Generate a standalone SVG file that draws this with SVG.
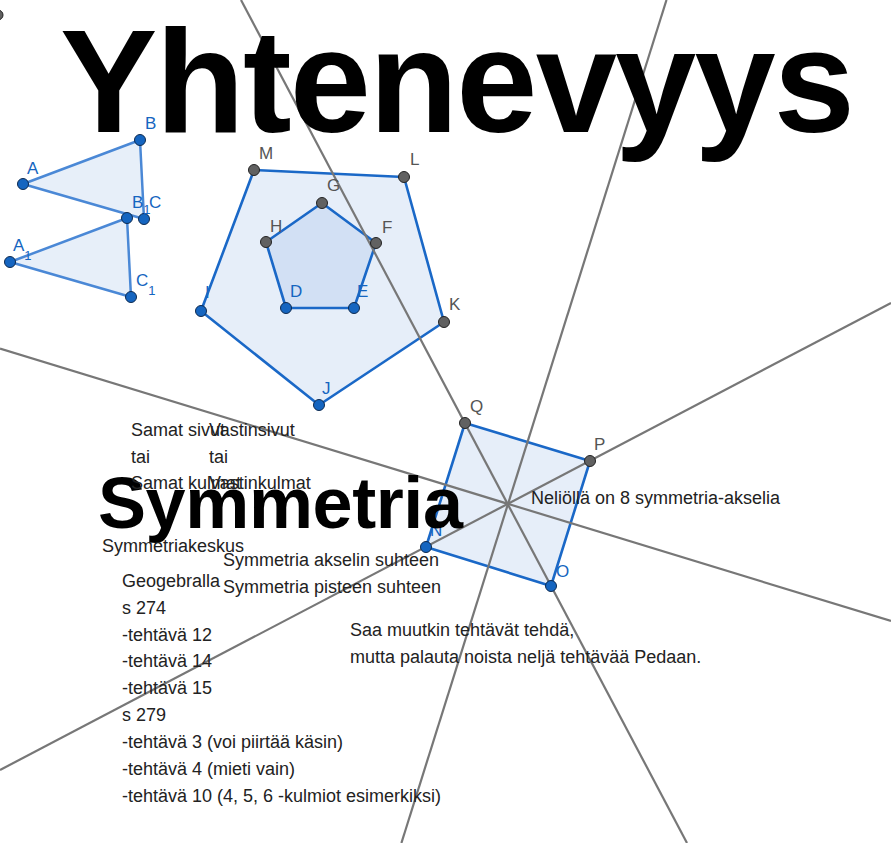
<svg xmlns="http://www.w3.org/2000/svg" width="891" height="843" viewBox="0 0 891 843">
<style>
.ax{stroke:#777;stroke-width:2.2;fill:none}
.tri{stroke:#4a88d6;stroke-width:2.5;fill:#e3ecf8;fill-opacity:0.85;stroke-linejoin:round}
.poly{stroke:#1a68c7;stroke-width:2.6;fill:#e6eef9;stroke-linejoin:round}
.inner{stroke:#1a68c7;stroke-width:2.6;fill:#d2e0f4;stroke-linejoin:round}
.pb{fill:#1565c0;stroke:#0d2a50;stroke-width:1}
.pg{fill:#616161;stroke:#222;stroke-width:1}
.lb{font-family:"Liberation Sans",Arial,sans-serif;font-size:17px;fill:#1565c0}
.lg{font-family:"Liberation Sans",Arial,sans-serif;font-size:17px;fill:#555}
.sub{font-size:13px}
.t{font-family:"Liberation Sans",Arial,sans-serif;font-size:18px;fill:#222}
.big{font-family:"Liberation Sans",Arial,sans-serif;font-weight:bold;fill:#000}
</style>
<g id="shapes">
<polygon class="tri" points="23,184 140,140 144,219"/>
<polygon class="tri" points="10,262 127,218 131,297"/>
<polygon class="poly" points="254,170 404,177 444,322 319,405 201,311"/>
<polygon class="inner" points="322,203 376,243 354,308 286,308 266,242"/>
<polygon class="poly" points="465,423 590,461 551,586 426,547"/>
</g>
<g id="connectors">
<line class="ax" x1="241" y1="0" x2="687" y2="843"/>
<line class="ax" x1="666.5" y1="0" x2="401.4" y2="843"/>
<line class="ax" x1="0" y1="348.5" x2="891" y2="621"/>
<line class="ax" x1="0" y1="770" x2="891" y2="303"/>
</g>
<g id="points">
<circle class="pg" cx="-2" cy="15" r="5"/>
<circle class="pb" cx="23" cy="184" r="5.5"/>
<circle class="pb" cx="140" cy="140" r="5.5"/>
<circle class="pb" cx="144" cy="219" r="5.5"/>
<circle class="pb" cx="10" cy="262" r="5.5"/>
<circle class="pb" cx="127" cy="218" r="5.5"/>
<circle class="pb" cx="131" cy="297" r="5.5"/>
<circle class="pg" cx="254" cy="170" r="5.5"/>
<circle class="pg" cx="404" cy="177" r="5.5"/>
<circle class="pg" cx="444" cy="322" r="5.5"/>
<circle class="pb" cx="319" cy="405" r="5.5"/>
<circle class="pb" cx="201" cy="311" r="5.5"/>
<circle class="pg" cx="322" cy="203" r="5.5"/>
<circle class="pg" cx="376" cy="243" r="5.5"/>
<circle class="pb" cx="354" cy="308" r="5.5"/>
<circle class="pb" cx="286" cy="308" r="5.5"/>
<circle class="pg" cx="266" cy="242" r="5.5"/>
<circle class="pg" cx="465" cy="423" r="5.5"/>
<circle class="pg" cx="590" cy="461" r="5.5"/>
<circle class="pb" cx="551" cy="586" r="5.5"/>
<circle class="pb" cx="426" cy="547" r="5.5"/>
</g>
<g id="labels">
<text class="lb" x="27" y="174">A</text>
<text class="lb" x="145" y="129">B</text>
<text class="lb" x="132" y="208">B<tspan class="sub" dy="6">1</tspan></text>
<text class="lb" x="149" y="208">C</text>
<text class="lb" x="13" y="251">A<tspan class="sub" dy="9">1</tspan></text>
<text class="lb" x="136" y="286">C<tspan class="sub" dy="9">1</tspan></text>
<text class="lg" x="259" y="159">M</text>
<text class="lg" x="410" y="165">L</text>
<text class="lg" x="327" y="191">G</text>
<text class="lg" x="270" y="232">H</text>
<text class="lg" x="382" y="233">F</text>
<text class="lb" x="290" y="297">D</text>
<text class="lb" x="357" y="297">E</text>
<text class="lb" x="205" y="298">I</text>
<text class="lg" x="449" y="310">K</text>
<text class="lb" x="322" y="394">J</text>
<text class="lg" x="470" y="412">Q</text>
<text class="lg" x="594" y="450">P</text>
<text class="lb" x="556" y="577">O</text>
<text class="lb" x="430" y="536">N</text>
</g>
<g id="texts">
<text class="big" x="60" y="132" font-size="146" textLength="795">Yhtenevyys</text>
<text class="big" x="98" y="528" font-size="72" textLength="365">Symmetria</text>
<text class="t" x="131" y="436">Samat sivut</text>
<text class="t" x="131" y="463">tai</text>
<text class="t" x="131" y="489">Samat kulmat</text>
<text class="t" x="209" y="436">Vastinsivut</text>
<text class="t" x="209" y="463">tai</text>
<text class="t" x="209" y="489">Vastinkulmat</text>
<text class="t" x="531" y="504">Neliöllä on 8 symmetria-akselia</text>
<text class="t" x="102" y="552">Symmetriakeskus</text>
<text class="t" x="223" y="566">Symmetria akselin suhteen</text>
<text class="t" x="223" y="593">Symmetria pisteen suhteen</text>
<text class="t" x="122" y="587">Geogebralla</text>
<text class="t" x="122" y="614">s 274</text>
<text class="t" x="122" y="641">-tehtävä 12</text>
<text class="t" x="122" y="667">-tehtävä 14</text>
<text class="t" x="122" y="694">-tehtävä 15</text>
<text class="t" x="122" y="721">s 279</text>
<text class="t" x="122" y="748">-tehtävä 3 (voi piirtää käsin)</text>
<text class="t" x="122" y="775">-tehtävä 4 (mieti vain)</text>
<text class="t" x="122" y="802">-tehtävä 10 (4, 5, 6 -kulmiot esimerkiksi)</text>
<text class="t" x="350" y="636">Saa muutkin tehtävät tehdä,</text>
<text class="t" x="350" y="663">mutta palauta noista neljä tehtävää Pedaan.</text>
</g>
</svg>
